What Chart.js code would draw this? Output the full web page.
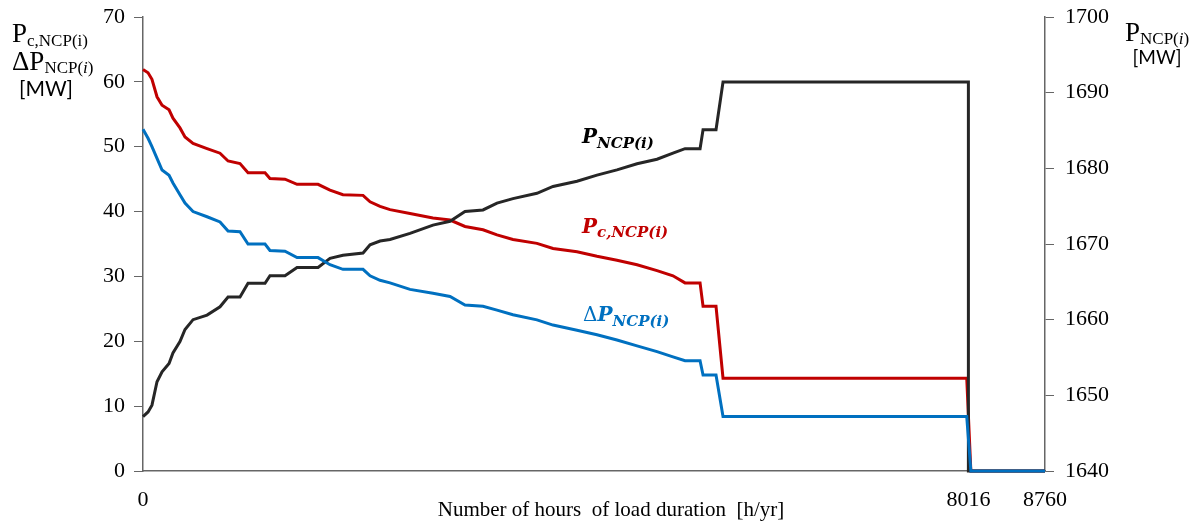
<!DOCTYPE html>
<html>
<head>
<meta charset="utf-8">
<script src="https://cdn.jsdelivr.net/npm/chart.js@4.4.1/dist/chart.umd.min.js"></script>
<style>
  html, body { margin: 0; padding: 0; background: #fff; }
  #wrap { width: 1200px; height: 527px; }
</style>
</head>
<body>
<div id="wrap"><canvas id="chart" width="1200" height="527"></canvas></div>
<script>
// Load duration data, hours on x
const hours = [0, 49, 87, 136, 185, 253, 291, 359, 408, 486, 622, 748, 826, 942, 1020,
  1185, 1233, 1379, 1496, 1700, 1816, 1942, 2137, 2205, 2302, 2399, 2593, 2816, 2982, 3127,
  3302, 3438, 3593, 3826, 3982, 4215, 4409, 4603, 4798, 4992, 5147, 5264, 5410, 5439, 5565,
  5633, 8000];

// Pc,NCP(i) [MW] - left axis
const pcValues = [61.9, 61.4, 60.4, 57.7, 56.4, 55.7, 54.4, 52.9, 51.5, 50.5, 49.7, 49.0, 47.8, 47.4, 46.0,
  46.0, 45.1, 45.0, 44.2, 44.2, 43.3, 42.6, 42.5, 41.5, 40.8, 40.3, 39.7, 39.0, 38.7, 37.7,
  37.2, 36.4, 35.7, 35.1, 34.3, 33.8, 33.1, 32.5, 31.8, 30.9, 30.1, 29.0, 29.0, 25.4, 25.4,
  14.3, 14.3];

// dP NCP(i) [MW] - left axis
const dpValues = [52.7, 51.3, 50.0, 48.2, 46.4, 45.6, 44.4, 42.6, 41.3, 40.0, 39.2, 38.4, 37.0, 36.9, 35.0,
  35.0, 34.0, 33.9, 32.9, 32.9, 31.8, 31.1, 31.1, 30.1, 29.4, 29.0, 28.0, 27.4, 26.9, 25.6,
  25.4, 24.8, 24.1, 23.3, 22.5, 21.7, 21.0, 20.2, 19.3, 18.4, 17.6, 17.0, 17.0, 14.8, 14.8,
  8.4, 8.4];

// P NCP(i) [MW] - right axis
const pncpValues = [1647.2, 1647.8, 1648.7, 1651.8, 1653.1, 1654.2, 1655.6, 1657.1, 1658.7, 1660.0,
  1660.6, 1661.7, 1663.0, 1663.0, 1664.8, 1664.8, 1665.8, 1665.8, 1666.9, 1666.9,
  1668.1, 1668.5, 1668.8, 1669.9, 1670.4, 1670.6, 1671.4, 1672.5, 1673.0, 1674.3,
  1674.5, 1675.4, 1676.0, 1676.7, 1677.6, 1678.3, 1679.1, 1679.8, 1680.6, 1681.2,
  1682.0, 1682.6, 1682.6, 1685.1, 1685.1, 1691.4, 1691.4];

// tails after the last load hour
const lossTailHours = [8040, 8760];
const lossTailValues = [0, 0];
const peakTailHours = [8016, 8016, 8760];
const peakTailValues = [1691.4, 1640, 1640];

const xTicks = [0, 8016, 8760];
const leftTicks = [0, 10, 20, 30, 40, 50, 60, 70];
const rightTicks = [1640, 1650, 1660, 1670, 1680, 1690, 1700];

const RED = '#C00000';
const BLUE = '#0070C0';
const BLACK = '#262626';
const AXIS = '#666666';

function toPoints(xs, ys) {
  return xs.map((x, i) => ({ x: x, y: ys[i] }));
}

// draw text pieces one after the other (for subscripts)
function drawParts(ctx, x, y, parts) {
  parts.forEach(p => {
    ctx.font = p.font;
    ctx.fillText(p.text, x, y + (p.dy || 0));
    x += ctx.measureText(p.text).width;
  });
}

const textPlugin = {
  id: 'texts',
  afterDraw(chart) {
    const ctx = chart.ctx;
    const big = '27px "Liberation Serif"';
    const sub = '17px "Liberation Serif"';
    const subI = 'italic 17px "Liberation Serif"';
    ctx.save();
    ctx.fillStyle = '#000';
    ctx.textAlign = 'left';
    ctx.textBaseline = 'alphabetic';

    // left axis title
    drawParts(ctx, 12, 42, [{ text: 'P', font: big }, { text: 'c,NCP(i)', font: sub, dy: 4 }]);
    drawParts(ctx, 12, 70, [{ text: '\u0394P', font: big }, { text: 'NCP(', font: sub, dy: 3 },
      { text: 'i', font: subI, dy: 3 }, { text: ')', font: sub, dy: 3 }]);
    ctx.font = '21px Lato';
    ctx.textAlign = 'center';
    ctx.fillText('[MW]', 46, 96);

    // right axis title
    ctx.textAlign = 'left';
    drawParts(ctx, 1125, 41, [{ text: 'P', font: big }, { text: 'NCP(', font: sub, dy: 3 },
      { text: 'i', font: subI, dy: 3 }, { text: ')', font: sub, dy: 3 }]);
    ctx.font = '19px Lato';
    ctx.textAlign = 'center';
    ctx.fillText('[MW]', 1157, 64);

    // x axis title
    ctx.font = '21px "Liberation Serif"';
    ctx.fillText('Number of hours  of load duration  [h/yr]', 611, 516);

    // series labels inside the plot
    ctx.textAlign = 'left';
    const bi = 'italic bold 20px "DejaVu Serif"';
    const biSub = 'italic bold 15px "DejaVu Serif"';
    ctx.fillStyle = '#000';
    drawParts(ctx, 582, 143, [{ text: 'P', font: bi }, { text: 'NCP(i)', font: biSub, dy: 5 }]);
    ctx.fillStyle = RED;
    drawParts(ctx, 582, 233, [{ text: 'P', font: bi }, { text: 'c,NCP(i)', font: biSub, dy: 4 }]);
    ctx.fillStyle = BLUE;
    drawParts(ctx, 583, 321, [{ text: '\u0394', font: '20px "DejaVu Serif"' }, { text: 'P', font: bi },
      { text: 'NCP(i)', font: biSub, dy: 5 }]);
    ctx.restore();
  }
};

// y axes: fixed width, no extra room asked for the end labels
function fitY(width) {
  return scale => {
    scale.width = width;
    scale.paddingTop = 0;
    scale.paddingBottom = 0;
  };
}

const ctx = document.getElementById('chart').getContext('2d');
new Chart(ctx, {
  type: 'line',
  data: {
    datasets: [
      {
        label: 'dP NCP(i)',
        data: toPoints(hours.concat(lossTailHours), dpValues.concat(lossTailValues)),
        borderColor: BLUE,
        yAxisID: 'y'
      },
      {
        label: 'P NCP(i)',
        data: toPoints(hours.concat(peakTailHours), pncpValues.concat(peakTailValues)),
        borderColor: BLACK,
        yAxisID: 'y1'
      },
      {
        label: 'Pc,NCP(i)',
        data: toPoints(hours.concat(lossTailHours), pcValues.concat(lossTailValues)),
        borderColor: RED,
        yAxisID: 'y'
      }
    ]
  },
  options: {
    responsive: false,
    animation: false,
    layout: { padding: { top: 17, left: 0, right: 0, bottom: 0 } },
    elements: {
      point: { radius: 0 },
      line: { borderWidth: 3, tension: 0, fill: false, borderJoinStyle: 'miter' }
    },
    datasets: { line: { clip: false } },
    plugins: {
      legend: { display: false },
      tooltip: { enabled: false }
    },
    scales: {
      x: {
        type: 'linear',
        min: 0,
        max: 8760,
        afterBuildTicks: scale => { scale.ticks = xTicks.map(v => ({ value: v })); },
        afterFit: scale => { scale.height = 56; scale.paddingLeft = 0; scale.paddingRight = 0; },
        grid: { display: false },
        border: { display: true, color: AXIS, width: 1.5 },
        ticks: {
          padding: 8,
          maxRotation: 0,
          autoSkip: false,
          color: '#000',
          font: { family: 'Liberation Serif', size: 22 },
          callback: v => String(v)
        }
      },
      y: {
        position: 'left',
        min: 0,
        max: 70,
        afterBuildTicks: scale => { scale.ticks = leftTicks.map(v => ({ value: v })); },
        afterFit: fitY(143),
        grid: { drawOnChartArea: false, drawTicks: true, tickLength: 9, color: AXIS },
        border: { display: true, color: AXIS, width: 1.5 },
        ticks: {
          padding: 9,
          color: '#000',
          font: { family: 'Liberation Serif', size: 22 }
        }
      },
      y1: {
        position: 'right',
        min: 1640,
        max: 1700,
        afterBuildTicks: scale => { scale.ticks = rightTicks.map(v => ({ value: v })); },
        afterFit: fitY(155),
        grid: { drawOnChartArea: false, drawTicks: true, tickLength: 9, color: AXIS },
        border: { display: true, color: AXIS, width: 1.5 },
        ticks: {
          padding: 11,
          color: '#000',
          font: { family: 'Liberation Serif', size: 22 },
          callback: v => String(v)
        }
      }
    }
  },
  plugins: [textPlugin]
});
</script>
</body>
</html>
